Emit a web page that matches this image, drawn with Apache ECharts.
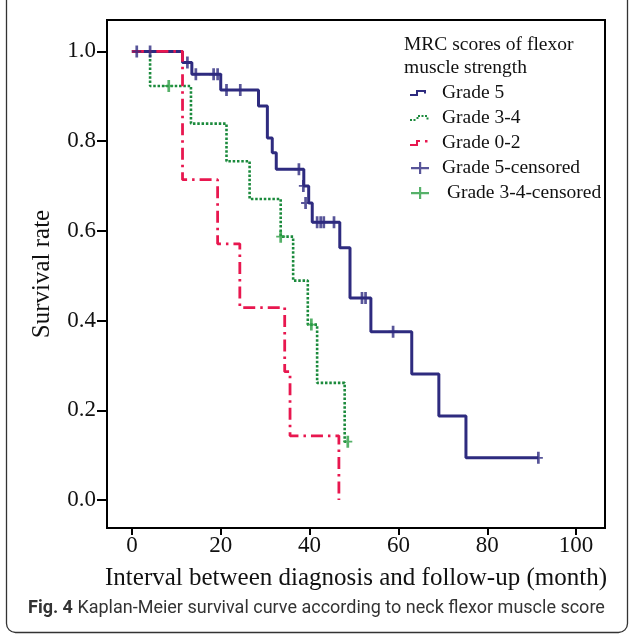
<!DOCTYPE html>
<html>
<head>
<meta charset="utf-8">
<script src="https://cdn.jsdelivr.net/npm/echarts@6/dist/echarts.min.js"></script>
<style>
  html, body { margin: 0; padding: 0; background: #fff; }
  #chart { width: 630px; height: 634px; }
</style>
</head>
<body>
<div id="chart"></div>
<script>
// --- Data (months, survival proportion) ---
const xTicks = [0, 20, 40, 60, 80, 100];
const yTicks = [0, 0.2, 0.4, 0.6, 0.8, 1.0];

// Grade 5: step points (time of event, survival after event)
const grade5Times = [0, 11.4, 13.5, 20.0, 28.5, 30.5, 31.6, 32.5, 38.7, 39.8, 40.6, 46.8, 49.1, 53.8, 63.0, 69.1, 75.2, 91.5];
const grade5Surv  = [1.0, 0.975, 0.949, 0.914, 0.878, 0.807, 0.774, 0.737, 0.700, 0.662, 0.619, 0.562, 0.450, 0.375, 0.281, 0.187, 0.094, 0.094];

// Grade 3-4
const grade34Times = [0, 4.1, 13.3, 21.3, 26.5, 33.5, 36.3, 39.6, 41.7, 47.9, 48.6];
const grade34Surv  = [1.0, 0.923, 0.839, 0.755, 0.671, 0.587, 0.489, 0.391, 0.261, 0.130, 0.130];

// Grade 0-2
const grade02Times = [0, 11.4, 19.3, 24.3, 34.4, 35.6, 46.6];
const grade02Surv  = [1.0, 0.714, 0.571, 0.429, 0.286, 0.143, 0.0];

// censored observations
const cens5Times = [1.1, 4.1, 12.5, 14.4, 18.4, 19.3, 21.3, 24.4, 37.6, 38.6, 39.1, 41.7, 42.5, 43.2, 45.5, 51.8, 52.6, 58.8, 91.5];
const cens5Surv  = [1.0, 1.0, 0.975, 0.949, 0.949, 0.949, 0.914, 0.914, 0.737, 0.700, 0.662, 0.619, 0.619, 0.619, 0.619, 0.450, 0.450, 0.375, 0.094];
const cens34Times = [8.3, 33.5, 40.4, 48.6];
const cens34Surv  = [0.923, 0.587, 0.391, 0.130];

// --- Styling ---
const NAVY = '#2e2b7f';
const GREEN = '#1b8a3c';
const GREEN_CROSS = '#2c9e44';
const RED = '#e8174f';
const SERIF = 'Liberation Serif';
const PLUS = 'path://M3.5,0L6.5,0L6.5,8.5L10,8.5L10,11.5L6.5,11.5L6.5,20L3.5,20L3.5,11.5L0,11.5L0,8.5L3.5,8.5Z';
// legend keys: 22x12 box; degenerate points pad the bounding box so shapes keep their size
const PAD = 'M0,0L0,0Z M22,12L22,12Z ';
const PLUS_LEGEND = 'path://' + PAD + 'M10,0L12.2,0L12.2,5L20,5L20,7.2L12.2,7.2L12.2,12L10,12L10,7.2L2,7.2L2,5L10,5Z';
const ICON_SOLID = 'path://' + PAD + 'M1,7L7,7L7,3L17,3L17,6.5L15,6.5L15,5L9,5L9,9L1,9Z';
const ICON_DOTTED = 'path://' + PAD + 'M1,7h2v2h-2Z M4.5,7h2v2h-2Z M7.5,5h2v2h-2Z M9,3h2v2h-2Z M12.5,3h2v2h-2Z M16,3h2v2h-2Z M17.5,5.5h2v2h-2Z';
const ICON_DASHDOT = 'path://' + PAD + 'M1,7L7,7L7,3L11,3L11,5L9,5L9,9L1,9Z M16,3h2.5v2.5h-2.5Z';

const zip = (xs, ys) => xs.map((x, i) => [x, ys[i]]);

const chart = echarts.init(document.getElementById('chart'), null, { renderer: 'canvas' });

const option = {
    animation: false,
    backgroundColor: '#fff',
    grid: { left: 107, top: 20, right: 25, bottom: 106, show: true, borderColor: '#000', borderWidth: 2, backgroundColor: 'transparent' },
    xAxis: {
        type: 'value', min: -5.6, max: 106.5,
        name: 'Interval between diagnosis and follow-up (month)',
        nameLocation: 'middle', nameGap: 38,
        nameTextStyle: { fontFamily: SERIF, fontSize: 25, color: '#111' },
        axisLine: { show: true, onZero: false, lineStyle: { color: '#000', width: 2 } },
        axisTick: { show: true, length: 7, customValues: xTicks, lineStyle: { color: '#000', width: 2 } },
        axisLabel: { customValues: xTicks, fontFamily: SERIF, fontSize: 23, color: '#111', margin: 6 },
        splitLine: { show: false }
    },
    yAxis: {
        type: 'value', min: -0.0625, max: 1.07,
        name: 'Survival rate',
        nameLocation: 'middle', nameGap: 52, nameRotate: 90,
        nameTextStyle: { fontFamily: SERIF, fontSize: 25, color: '#111' },
        axisLine: { show: true, onZero: false, lineStyle: { color: '#000', width: 2 } },
        axisTick: { show: true, length: 10, customValues: yTicks, lineStyle: { color: '#000', width: 2 } },
        axisLabel: { customValues: yTicks, fontFamily: SERIF, fontSize: 23, color: '#111', margin: 11,
                     formatter: v => v.toFixed(1) },
        splitLine: { show: false }
    },
    legend: {
        orient: 'vertical', left: 404, top: 78,
        itemWidth: 22, itemHeight: 12, itemGap: 5,
        textStyle: { fontFamily: SERIF, fontSize: 19.5, color: '#111', padding: [0, 0, 0, 6] },
        formatter: name => name === 'Grade 3-4-censored' ? ' ' + name : name,
        data: [
            { name: 'Grade 5', icon: ICON_SOLID, itemStyle: { color: NAVY } },
            { name: 'Grade 3-4', icon: ICON_DOTTED, itemStyle: { color: GREEN } },
            { name: 'Grade 0-2', icon: ICON_DASHDOT, itemStyle: { color: RED } },
            { name: 'Grade 5-censored', icon: PLUS_LEGEND, itemStyle: { color: NAVY } },
            { name: 'Grade 3-4-censored', icon: PLUS_LEGEND, itemStyle: { color: GREEN_CROSS } }
        ]
    },
    graphic: [
        {
            type: 'text', left: 404, top: 33,
            style: { text: 'MRC scores of flexor\nmuscle strength', font: '19.5px "Liberation Serif"', lineHeight: 23, fill: '#111' }
        },
        {
            type: 'rect', left: 4, top: -20,
            shape: { width: 621, height: 650, r: 9 },
            style: { fill: 'none', stroke: '#333', lineWidth: 1.3 }, silent: true, z: -1
        },
        {
            type: 'text', left: 28, top: 599,
            style: {
                text: '{b|Fig. 4} Kaplan-Meier survival curve according to neck flexor muscle score',
                font: '18px Roboto', fill: '#333',
                rich: { b: { fontFamily: 'Roboto', fontSize: 18, fontWeight: 'bold', fill: '#333' } }
            }
        }
    ],
    series: [
        {
            name: 'Grade 3-4', type: 'line', step: 'end', symbol: 'none', z: 2,
            data: zip(grade34Times, grade34Surv),
            lineStyle: { color: GREEN, width: 2.6, type: [2.5, 1.8] },
            itemStyle: { color: GREEN }
        },
        {
            name: 'Grade 5', type: 'line', step: 'end', symbol: 'none', z: 3,
            data: zip(grade5Times, grade5Surv),
            lineStyle: { color: NAVY, width: 3 },
            itemStyle: { color: NAVY }
        },
        {
            name: 'Grade 0-2', type: 'line', step: 'end', symbol: 'none', z: 4,
            data: zip(grade02Times, grade02Surv),
            lineStyle: { color: RED, width: 2.8, type: [12, 5, 2.5, 5] },
            itemStyle: { color: RED }
        },
        {
            name: 'Grade 5-censored', type: 'scatter', symbol: PLUS, symbolSize: [9, 12], z: 5,
            data: zip(cens5Times, cens5Surv),
            itemStyle: { color: NAVY }
        },
        {
            name: 'Grade 3-4-censored', type: 'scatter', symbol: PLUS, symbolSize: [9, 12], z: 5,
            data: zip(cens34Times, cens34Surv),
            itemStyle: { color: GREEN_CROSS }
        }
    ]
};

chart.setOption(option);
</script>
</body>
</html>
